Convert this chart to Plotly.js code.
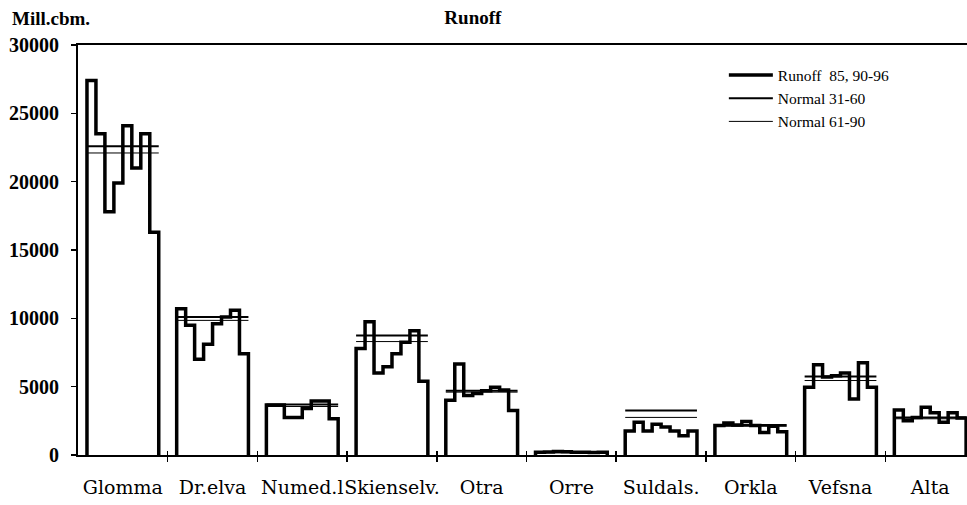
<!DOCTYPE html>
<html><head><meta charset="utf-8">
<script src="https://cdn.plot.ly/plotly-3.0.1.min.js"></script>
<style>html,body{margin:0;padding:0;background:#fff}#chart{width:967px;height:505px}</style>
</head><body><div id="chart"></div>
<script>
// Categories (rivers) and years
const rivers = ['Glomma','Dr.elva','Numed.l','Skienselv.','Otra','Orre','Suldals.','Orkla','Vefsna','Alta'];
const years = ['85','90','91','92','93','94','95','96'];

// Runoff 85, 90-96 (mill. cbm) per river
const glomma   = [27400, 23500, 17800, 19900, 24100, 21000, 23500, 16300];
const drelva   = [10700, 9500, 7000, 8100, 9600, 10100, 10600, 7400];
const numedal  = [3650, 3650, 2750, 2750, 3400, 3950, 3950, 2650];
const skiens   = [7800, 9750, 6000, 6450, 7400, 8250, 9100, 5400];
const otra     = [4000, 6650, 4350, 4500, 4700, 4950, 4750, 3250];
const orre     = [200, 220, 250, 230, 200, 200, 180, 200];
const suldal   = [1750, 2400, 1750, 2250, 2050, 1750, 1400, 1750];
const orkla    = [2150, 2350, 2200, 2450, 2150, 1650, 2100, 1700];
const vefsna   = [4950, 6600, 5700, 5800, 6000, 4100, 6750, 4950];
const alta     = [3300, 2500, 2750, 3500, 3100, 2400, 3100, 2700];

// Normal runoff per river
const normal3160 = [22600, 10100, 3700, 8750, 4700, 210, 3250, 2200, 5750, 2750];
const normal6190 = [22100, 9850, 3550, 8300, 4600, 200, 2750, 2100, 5450, 2650];

// Y axis ticks
const yTickVals = [0, 5000, 10000, 15000, 20000, 25000, 30000];
const yTickText = ['0', '5000', '10000', '15000', '20000', '25000', '30000'];

const runoff = [glomma, drelva, numedal, skiens, otra, orre, suldal, orkla, vefsna, alta];

// Each river occupies 10 x-units; 8 yearly steps of 1 unit, with 1 unit gap each side
const slot = 10;
const rx = [], ry = [];
runoff.forEach((vals, i) => {
  const x0 = i * slot + 1;
  rx.push(x0); ry.push(0);
  vals.forEach((v, j) => { rx.push(x0 + j); ry.push(v); });
  rx.push(x0 + vals.length); ry.push(0);
  rx.push(null); ry.push(null);
});
function normalLine(vals) {
  const x = [], y = [];
  vals.forEach((v, i) => {
    const x0 = i * slot + 1;
    x.push(x0, x0 + years.length, null);
    y.push(v, v, null);
  });
  return {x, y};
}
const n1 = normalLine(normal3160), n2 = normalLine(normal6190);

const serif = 'Liberation Serif, Times New Roman, serif';
const traces = [
  {x: rx, y: ry, type: 'scatter', mode: 'lines', line: {shape: 'hv', color: '#000', width: 3.5},
   name: 'Runoff  85, 90-96', connectgaps: false, hoverinfo: 'skip'},
  {x: n1.x, y: n1.y, type: 'scatter', mode: 'lines', line: {color: '#000', width: 2},
   name: 'Normal 31-60', hoverinfo: 'skip'},
  {x: n2.x, y: n2.y, type: 'scatter', mode: 'lines', line: {color: '#000', width: 1},
   name: 'Normal 61-90', hoverinfo: 'skip'},
  {x: [], y: [], xaxis: 'x2', showlegend: false, type: 'scatter'},
  {x: [], y: [], xaxis: 'x3', showlegend: false, type: 'scatter'}
];

const boundaries = rivers.slice(1).map((_, i) => (i + 1) * slot);
const centers = rivers.map((_, i) => i * slot + slot / 2);
const xr = [0, 99.1];

const layout = {
  width: 967, height: 505,
  margin: {l: 78, r: 0, t: 45, b: 50},
  paper_bgcolor: '#fff', plot_bgcolor: '#fff',
  font: {family: serif, color: '#000'},
  title: {text: '<b>Runoff</b>', font: {family: serif, size: 19, color: '#000'},
          x: 0.489, xanchor: 'center', y: 0.965, yanchor: 'middle'},
  showlegend: true,
  legend: {x: 0.7265, xanchor: 'left', y: 0.967, yanchor: 'top', bgcolor: 'rgba(0,0,0,0)',
           font: {family: serif, size: 15.5, color: '#000'}, itemwidth: 44},
  xaxis: {range: xr, tickmode: 'array', tickvals: boundaries, showticklabels: false,
          ticks: 'outside', ticklen: 5, tickwidth: 1.5, tickcolor: '#000',
          showline: true, linewidth: 2, linecolor: '#000', mirror: true,
          showgrid: false, zeroline: false, fixedrange: true},
  xaxis2: {range: xr, overlaying: 'x', anchor: 'y', side: 'bottom', tickmode: 'array',
           tickvals: centers, ticktext: rivers, ticks: '', tickangle: 0, showline: false, showgrid: false,
           zeroline: false, ticklabelstandoff: 19,
           tickfont: {family: 'DejaVu Serif, serif', size: 19, color: '#000'}},
  xaxis3: {range: xr, overlaying: 'x', anchor: 'y', side: 'bottom', tickmode: 'array',
           tickvals: boundaries, showticklabels: false, ticks: 'inside', ticklen: 4,
           tickwidth: 1.5, tickcolor: '#000', showline: false, showgrid: false, zeroline: false},
  yaxis: {range: [0, 30000], tickmode: 'array', tickvals: yTickVals, ticktext: yTickText,
          ticks: 'outside', ticklen: 5, tickwidth: 1.5, tickcolor: '#000',
          showline: true, linewidth: 2, linecolor: '#000', showgrid: false, zeroline: false,
          ticklabelstandoff: 8,
          tickfont: {family: serif, size: 20, weight: 'bold', color: '#000'}},
  annotations: [
    {text: '<b>Mill.cbm.</b>', xref: 'paper', yref: 'paper', x: -0.0765, y: 1,
     xanchor: 'left', yanchor: 'middle', yshift: 27, showarrow: false,
     font: {family: serif, size: 19, color: '#000'}}
  ]
};

Plotly.newPlot('chart', traces, layout, {displayModeBar: false, staticPlot: true});
</script></body></html>
